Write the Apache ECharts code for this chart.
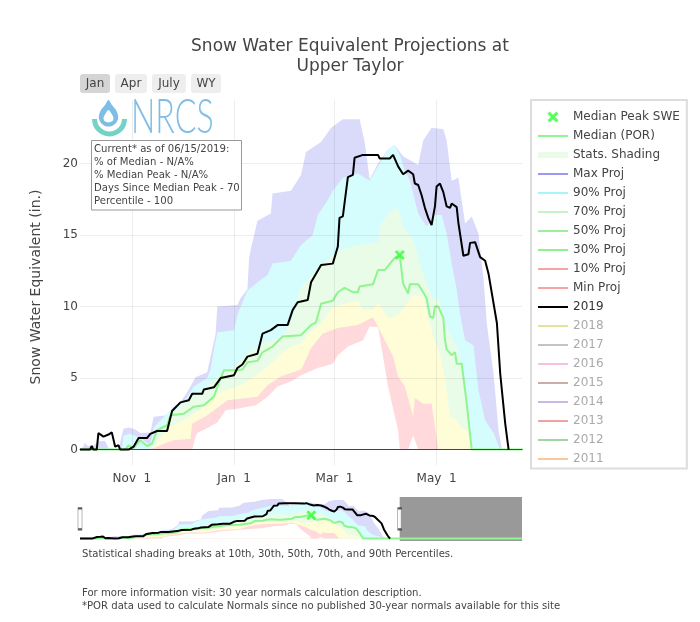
<!DOCTYPE html>
<html><head><meta charset="utf-8">
<style>html,body{margin:0;padding:0;background:#fff}#c{width:700px;height:622px}</style>
<script src="https://cdn.jsdelivr.net/npm/echarts@6/dist/echarts.min.js"></script>
</head><body><div id="c"></div>
<script>
// values are days since Oct 1 of the water year, and inches of SWE
const tickDays=[31,92,152,213];
const tickLabels=['Nov  1','Jan  1','Mar  1','May  1'];
const yTicks=[0,5,10,15,20];
const viewDays=264, yearDays=365;
const maxProj=[[0,0],[2,.2],[3,.5],[4,.3],[7,.2],[12,.6],[15,.6],[17,.1],[23,0],[25,1],[26,1.45],[29,1.55],[33,1.4],[36,1.15],[42,1.2],[44,2.3],[52,2.4],[55,2.9],[60,3.3],[65,4.2],[69,5.05],[76,5.4],[78,6.5],[81,8.1],[82,10],[94,10.1],[96,10.6],[100,11.2],[101,13.4],[102,14],[106,16],[114,16.5],[115,17.9],[126,18.1],[132,19.2],[135,20.8],[144,21.5],[150,22.5],[157,23.1],[167,23.1],[170,21.5],[173,18.9],[178,20],[184,21],[188,21.3],[193,20.5],[199,20.1],[202,19.9],[205,21.6],[210,22.5],[217,22.4],[219,21.6],[222,18.8],[226,19],[230,15.8],[234,16.3],[238,15.1],[241,11.9],[243,8.8],[247,5.3],[250,1.35],[252,0],[365,0]];
const p90=[[0,0],[25,0],[26,1],[30,1.1],[36,.8],[42,.3],[44,1.55],[54,2.75],[62,3.3],[68,4.4],[76,5],[78,5.6],[80,7],[82,8.2],[92,8.35],[94,9.4],[96,10],[100,11.1],[106,11.7],[112,12.2],[115,13],[126,13.2],[132,14.3],[139,15],[142,16.4],[148,17.45],[151,18.1],[157,19],[166,19.3],[173,18.8],[178,19.8],[184,21],[188,21.3],[191,20.6],[194,19.5],[197,18.8],[202,16.5],[207,15.6],[212,16.4],[216,16.4],[219,15.1],[222,13],[225,11.2],[227,9.5],[230,7.65],[235,7.3],[238,4.15],[242,2.05],[247,1.15],[251,0],[365,0]];
const p70=[[0,0],[42,0],[45,.9],[54,2.55],[64,3.4],[76,4.4],[84,5.35],[92,5.8],[100,6.7],[109,7.45],[121,7.9],[127,9.3],[130,10.7],[132,11.4],[136,11.85],[145,13],[155,13.95],[166,14.3],[178,14.5],[179,15.6],[184,16.5],[190,16.9],[193,15.6],[199,14.65],[205,12.3],[211,10.45],[214,10.7],[218,8.8],[225,7.2],[228,5.8],[231,3.25],[233,1.35],[235,0],[365,0]];
const p50=[[0,0],[43,0],[46,.6],[54,1.6],[64,2.2],[74,3],[84,4],[94,4.4],[103,5],[114,6],[124,7.1],[132,7.4],[136,8.1],[144,8.8],[151,10],[166,10.4],[169,9.75],[175,9.75],[178,10.3],[184,9.2],[190,9.4],[199,10.8],[205,10.7],[211,7.9],[215,6.7],[219,4.2],[221,2.3],[225,2.05],[228,1.5],[231,1.4],[234,0],[365,0]];
const p30=[[0,0],[42,0],[50,.4],[56,.65],[66,.75],[67,1.8],[76,2.4],[84,3.1],[88,3.45],[106,3.7],[112,4.5],[120,5.1],[132,5.6],[133,5.8],[138,7.1],[145,8.1],[154,8.5],[166,8.7],[175,9.25],[179,8.35],[184,7.2],[187,6.5],[190,5.1],[194,4.4],[199,2.3],[200,3.6],[205,3.2],[210,3.2],[214,0],[365,0]];
const p10=[[0,0],[67,0],[69,.9],[70,1.15],[76,1.5],[82,1.9],[87,2.75],[94,2.85],[105,3.1],[112,3.7],[118,4.4],[126,4.75],[132,5.2],[142,5.7],[151,6],[154,6.6],[160,7.2],[169,7.65],[173,8.6],[178,8.55],[181,6.5],[184,4.4],[190,1.35],[191,0],[196,0],[199,1],[202,0],[365,0]];
const medianPOR=[[0,0],[27,0],[29,.3],[32,.1],[36,.65],[40,.25],[43,.4],[46,1.35],[52,1.7],[54,2.4],[62,2.5],[68,3],[74,3.1],[80,3.7],[83,4.7],[86,5.55],[92,5.55],[97,5.6],[100,6.1],[106,6.2],[109,6.8],[115,7.2],[121,7.9],[132,8],[138,8.7],[141,8.9],[144,10.2],[151,10.4],[154,11],[158,11.3],[163,11],[166,11],[167,11.4],[175,11.55],[178,12.55],[182,12.55],[188,13.4],[191,13.6],[193,11.6],[196,10.9],[197,11.55],[202,11.55],[205,11],[207,10.6],[209,9.3],[211,9.2],[212,10],[214,10],[217,9.2],[218,7.65],[219,7],[222,6.6],[224,6.8],[225,6],[228,6],[231,3.2],[234,0],[365,0]];
const swe2019=[[0,0],[6,0],[7,.25],[8,0],[10,0],[11,1.15],[14,.9],[17,1.05],[19,1.2],[21,.2],[23,.3],[24,0],[29,0],[32,.2],[35,.8],[40,.8],[42,1.1],[46,1.3],[52,1.3],[55,2.7],[60,3.3],[65,3.45],[67,3.9],[73,3.9],[74,4.2],[80,4.35],[84,5],[92,5.2],[94,5.7],[97,5.95],[100,6.5],[106,6.7],[109,8.1],[114,8.35],[118,8.7],[124,8.7],[127,9.75],[130,10.3],[136,10.45],[138,11.7],[144,12.9],[151,13],[154,14.2],[155,16.2],[157,16.3],[160,19.05],[163,19.2],[164,20.4],[169,20.6],[175,20.6],[176,20.7],[178,20.6],[179,20.35],[185,20.35],[187,20.6],[190,19.8],[193,19.25],[196,19.5],[199,19.25],[200,18.6],[202,18.5],[204,17.8],[206,16.9],[208,16.2],[210,15.7],[212,17],[213,18.4],[215,18.6],[217,18],[219,17],[221,16.9],[222,17.2],[225,16.95],[226,15.85],[229,13.55],[232,13.65],[233,14.45],[236,14.5],[239,13.45],[242,13.2],[244,12.3],[249,8.85],[251,5.3],[254,1.8],[256,0]];
const medianPeak=[[191,13.6]];
const hiddenYears=['2018','2017','2016','2015','2014','2013','2012','2011'];
const hiddenColors=['#e3e39a','#c4c4c4','#f9bfe0','#c9aca6','#cdb5e6','#f0a3a3','#a3d6a3','#fcc89b'];
const infoLines=['Current* as of 06/15/2019:','% of Median - N/A%','% Median Peak - N/A%','Days Since Median Peak - 70','Percentile - 100'];

const FONT='"DejaVu Sans", Verdana, sans-serif', INK='#444';
const xMark='path://M2 0L5 3L8 0L10 2L7 5L10 8L8 10L5 7L2 10L0 8L3 5L0 2Z';
const bands=[
 {name:'Max Proj',data:maxProj,fill:'#dadafb',icon:'#9a9af2'},
 {name:'90% Proj',data:p90,fill:'#d6fdfd',icon:'#a6f5f9'},
 {name:'70% Proj',data:p70,fill:'#e8fce8',icon:'#c8f2c8'},
 {name:'50% Proj',data:p50,fill:'#fffdd8',icon:'#9cf09c'},
 {name:'30% Proj',data:p30,fill:'#ffd9dc',icon:'#8ef28e'},
 {name:'10% Proj',data:p10,fill:'#ffffff',icon:'#f7a3a3'}
];
function seriesFor(ax){
  const out=[];
  bands.forEach(b=>out.push({type:'line',name:b.name,xAxisIndex:ax,yAxisIndex:ax,data:b.data,showSymbol:false,symbol:'none',
    lineStyle:{width:0,color:b.icon},itemStyle:{color:b.icon},areaStyle:{color:b.fill,opacity:1},z:2,silent:true}));
  out.push({type:'line',name:'Median (POR)',xAxisIndex:ax,yAxisIndex:ax,data:medianPOR,showSymbol:false,symbol:'none',
    lineStyle:{width:2,color:'#8ff58f'},itemStyle:{color:'#8ff58f'},z:4,silent:true});
  out.push({type:'line',name:'2019',xAxisIndex:ax,yAxisIndex:ax,data:swe2019,showSymbol:false,symbol:'none',
    lineStyle:{width:2,color:'#000'},itemStyle:{color:'#000'},z:7,silent:true});
  out.push({type:'scatter',name:'Median Peak SWE',xAxisIndex:ax,yAxisIndex:ax,data:medianPeak,symbol:xMark,symbolSize:10,
    itemStyle:{color:'#33ff33'},z:8,silent:true});
  return out;
}
const ghosts=[{type:'line',name:'Stats. Shading',data:[],lineStyle:{color:'#e8fce8',width:6},itemStyle:{color:'#e8fce8'},symbol:'none'},
 {type:'line',name:'Min Proj',data:[],lineStyle:{color:'#f7a3a3',width:2},itemStyle:{color:'#f7a3a3'},symbol:'none'}]
 .concat(hiddenYears.map((y,i)=>({type:'line',name:y,data:[],lineStyle:{color:hiddenColors[i],width:2},itemStyle:{color:hiddenColors[i]},symbol:'none'})));

const lineLeg=(name,color,width,textColor)=>({name,itemStyle:{color:'rgba(0,0,0,0)',opacity:0,borderWidth:0},lineStyle:{color,width:width||2,opacity:1},textStyle:{color:textColor||INK}});
const legendData=[
 {name:'Median Peak SWE',textStyle:{color:INK}},
 lineLeg('Median (POR)','#8ff58f'),
 lineLeg('Stats. Shading','#e8fce8',6),
 ...bands.map(b=>lineLeg(b.name,b.icon)),
 lineLeg('Min Proj','#f7a3a3'),
 lineLeg('2019','#000',2,'#333'),
 ...hiddenYears.map((y,i)=>lineLeg(y,hiddenColors[i],2,'#aaa'))
];

const buttons=[['Jan',80,30,'#d5d5d5'],['Apr',115,32,'#eeeeee'],['July',152,34,'#eeeeee'],['WY',191,30,'#eeeeee']];
const g=[];
buttons.forEach(b=>{
  g.push({type:'rect',shape:{x:b[1],y:74,width:b[2],height:19,r:3},style:{fill:b[3]},z:20});
  g.push({type:'text',x:b[1]+b[2]/2,y:83.5,style:{text:b[0],fill:INK,font:'12px '+FONT,textAlign:'center',textVerticalAlign:'middle'},z:21});
});
// NRCS logo
g.push({type:'polygon',shape:{smooth:.25,points:[[108.5,100],[105,105],[101,110],[99,115],[99,119],[101,123],[105,126],[108.5,126.5],[112,126],[116,123],[118,119],[118,115],[116,110],[112,105]]},style:{fill:'#7dbde6'},z:20});
g.push({type:'polygon',shape:{smooth:.25,points:[[108.5,110],[105,114.5],[103.5,118],[104.5,121],[108.5,122.5],[112.5,121],[113.5,118],[112,114.5]]},style:{fill:'#fff'},z:21});
g.push({type:'arc',shape:{cx:109.5,cy:119,r:15,startAngle:0,endAngle:Math.PI,clockwise:true},style:{stroke:'#74d2c6',lineWidth:5,fill:'none'},z:21});
g.push({type:'text',x:131,y:118,scaleX:.67,style:{text:'NRCS',fill:'#7fbde6',font:'300 48px Lato',textAlign:'left',textVerticalAlign:'middle'},z:20});
// info box
g.push({type:'rect',shape:{x:91.5,y:140.5,width:150,height:69.5},style:{fill:'#fff',stroke:'#999',lineWidth:1},z:20});
infoLines.forEach((t,i)=>g.push({type:'text',x:94,y:149.5+i*13,style:{text:t,fill:INK,font:'10.1px '+FONT,textVerticalAlign:'middle'},z:21}));
// notes
[['Statistical shading breaks at 10th, 30th, 50th, 70th, and 90th Percentiles.',554],
 ['For more information visit: 30 year normals calculation description.',593],
 ['*POR data used to calculate Normals since no published 30-year normals available for this site',606]]
 .forEach(n=>g.push({type:'text',x:82,y:n[1],style:{text:n[0],fill:INK,font:'10.08px '+FONT,textVerticalAlign:'middle'},z:20}));

const chart=echarts.init(document.getElementById('c'),null,{renderer:'canvas'});
chart.setOption({
  animation:false,
  backgroundColor:'#fff',
  title:{text:'Snow Water Equivalent Projections at\nUpper Taylor',left:345,top:32,textAlign:'center',
    textStyle:{fontFamily:FONT,fontSize:17,fontWeight:'normal',color:INK,lineHeight:20}},
  legend:{type:'plain',orient:'vertical',left:531,top:100,itemWidth:30,itemHeight:11,itemGap:6,padding:[10.5,7,3,4],
    backgroundColor:'#fff',borderColor:'#ddd',borderWidth:2,borderRadius:0,selectedMode:false,
    textStyle:{fontFamily:FONT,fontSize:12,color:INK,lineHeight:13},data:legendData},
  grid:[{left:80,top:100,width:442,height:365,containLabel:false},{left:80,top:497,width:442,height:44}],
  xAxis:[
   {type:'value',gridIndex:0,min:0,max:viewDays,z:5,
    axisLine:{show:true,onZero:true,lineStyle:{color:'#444',width:1}},axisTick:{show:false,customValues:tickDays},
    axisLabel:{customValues:tickDays,margin:8,color:INK,fontFamily:FONT,fontSize:12,
      formatter:v=>tickLabels[tickDays.indexOf(v)]||''},
    splitLine:{show:true,lineStyle:{color:'rgba(0,0,0,0.07)',width:1}}},
   {type:'value',gridIndex:1,min:0,max:yearDays,axisLine:{show:false},axisTick:{show:false},axisLabel:{show:false},splitLine:{show:false}}
  ],
  yAxis:[
   {type:'value',gridIndex:0,min:-1.08,max:24.44,z:5,
    axisLine:{show:false},axisTick:{show:false,customValues:yTicks},
    axisLabel:{customValues:yTicks,margin:2,color:INK,fontFamily:FONT,fontSize:12},
    splitLine:{show:true,lineStyle:{color:'rgba(0,0,0,0.07)',width:1}},
    name:'Snow Water Equivalent (in.)',nameLocation:'middle',nameGap:37,nameRotate:90,
    nameTextStyle:{fontFamily:FONT,fontSize:14,color:INK,padding:[0,0,0,-9]}},
   {type:'value',gridIndex:1,min:-1.4,max:24.2,axisLine:{show:false},axisTick:{show:false},axisLabel:{show:false},splitLine:{show:false}}
  ],
  series:[...seriesFor(0),...seriesFor(1),...ghosts,
   {type:'scatter',xAxisIndex:1,yAxisIndex:1,z:12,silent:true,symbol:'rect',symbolSize:[4,21],clip:false,
    data:[[0,11.5],[viewDays,11.5]],itemStyle:{color:'#fff',borderColor:'#333',borderWidth:1},
    markArea:{silent:true,itemStyle:{color:'#999',opacity:1},data:[[{xAxis:viewDays,yAxis:-1.4},{xAxis:yearDays,yAxis:24.2}]]}}
  ],
  graphic:g
});
</script></body></html>
